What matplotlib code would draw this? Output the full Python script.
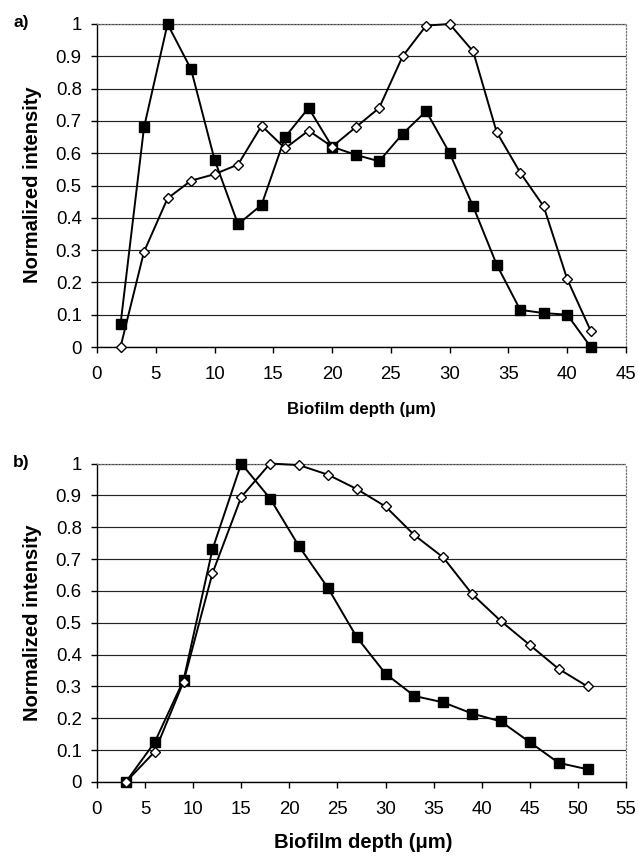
import matplotlib.pyplot as plt
import numpy as np

plt.rcParams['font.family'] = ['Liberation Sans', 'DejaVu Sans']

# panel a
depth_a = [2, 4, 6, 8, 10, 12, 14, 16, 18, 20, 22, 24, 26, 28, 30, 32, 34, 36, 38, 40, 42]
sq_a = [0.07, 0.68, 1.0, 0.86, 0.58, 0.38, 0.44, 0.65, 0.74, 0.62, 0.595, 0.575,
        0.66, 0.73, 0.60, 0.435, 0.255, 0.115, 0.105, 0.10, 0.0]
dia_a = [0.0, 0.295, 0.46, 0.515, 0.535, 0.565, 0.685, 0.615, 0.67, 0.62, 0.68, 0.74,
         0.90, 0.995, 1.0, 0.915, 0.665, 0.54, 0.435, 0.21, 0.05]

# panel b
depth_b = [3, 6, 9, 12, 15, 18, 21, 24, 27, 30, 33, 36, 39, 42, 45, 48, 51]
sq_b = [0.0, 0.125, 0.32, 0.73, 1.0, 0.89, 0.74, 0.61, 0.455, 0.34, 0.27, 0.25,
        0.215, 0.19, 0.125, 0.06, 0.04]
dia_b = [0.0, 0.095, 0.315, 0.655, 0.895, 1.0, 0.995, 0.965, 0.92, 0.865, 0.775,
         0.705, 0.59, 0.505, 0.43, 0.355, 0.30]

ytick_labels = ['0', '0.1', '0.2', '0.3', '0.4', '0.5', '0.6', '0.7', '0.8', '0.9', '1']

W, H = 638, 858
fig = plt.figure(figsize=(W / 100, H / 100), dpi=100)
# axes boxes in pixels: left, top, right, bottom
ax1 = fig.add_axes([97 / W, 1 - 347 / H, 529 / W, 323 / H])
ax2 = fig.add_axes([97 / W, 1 - 782 / H, 529 / W, 318.5 / H])


def style(ax, xmax):
    ax.set_xlim(0, xmax)
    ax.set_ylim(0, 1)
    ax.set_xticks(np.arange(0, xmax + 1, 5))
    ax.set_yticks(np.arange(0, 1.01, 0.1))
    ax.set_yticklabels(ytick_labels)
    ax.yaxis.grid(True, color='#222222', linewidth=0.85)
    ax.set_axisbelow(True)
    for s in ['top', 'right']:
        ax.spines[s].set_linestyle(':')
        ax.spines[s].set_color('#777777')
        ax.spines[s].set_linewidth(0.9)
    for s in ['left', 'bottom']:
        ax.spines[s].set_color('black')
        ax.spines[s].set_linewidth(1.0)
    ax.tick_params(axis='both', direction='out', length=4, width=1, labelsize=13.4)
    ax.tick_params(axis='x', pad=10)
    ax.tick_params(axis='y', pad=7)


for ax, x, sq, dia, xmax in [(ax1, depth_a, sq_a, dia_a, 45), (ax2, depth_b, sq_b, dia_b, 55)]:
    ax.plot(x, sq, color='black', lw=1.4, marker='s', ms=6.5, mfc='black', mec='black',
            zorder=3, clip_on=False)
    ax.plot(x, dia, color='black', lw=1.4, marker='D', ms=4.6, mfc='white', mec='black',
            mew=1, zorder=4, clip_on=False)
    style(ax, xmax)

# axis labels
fig.text(33 / W, 1 - 185 / H, 'Normalized intensity', rotation=90, fontsize=14.5,
         fontweight='bold', ha='center', va='center')
fig.text(33 / W, 1 - 623 / H, 'Normalized intensity', rotation=90, fontsize=14.5,
         fontweight='bold', ha='center', va='center')
fig.text(361 / W, 1 - 410 / H, 'Biofilm depth (μm)', fontsize=12.2, fontweight='bold',
         ha='center', va='center')
fig.text(363 / W, 1 - 843 / H, 'Biofilm depth (μm)', fontsize=14.6, fontweight='bold',
         ha='center', va='center')

fig.text(13 / W, 1 - 23 / H, 'a)', fontsize=12.5, fontweight='bold', va='center')
fig.text(13 / W, 1 - 463 / H, 'b)', fontsize=12.5, fontweight='bold', va='center')

fig.savefig('out.png', dpi=100)
